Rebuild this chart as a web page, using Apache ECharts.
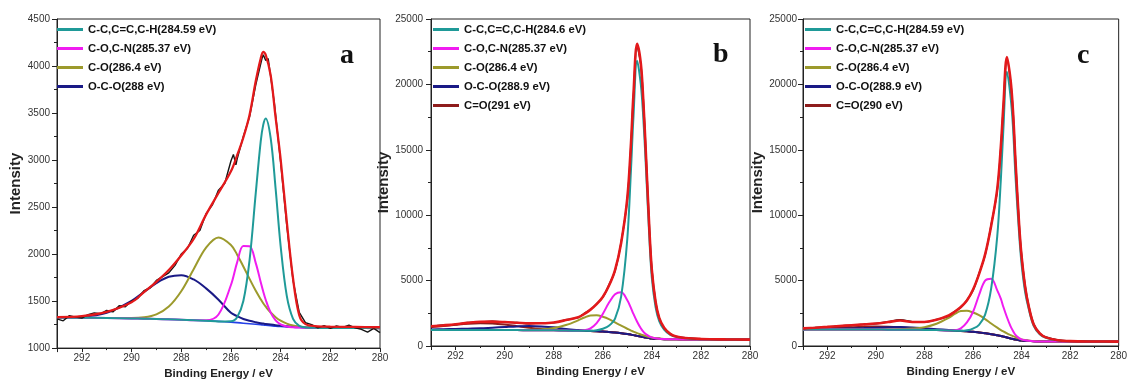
<!DOCTYPE html>
<html>
<head>
<meta charset="utf-8">
<script src="https://cdn.jsdelivr.net/npm/echarts@6/dist/echarts.min.js"></script>
<style>html,body{margin:0;padding:0;background:#fff}#c{width:1130px;height:385px}</style>
</head>
<body>
<div id="c"></div>
<script>
// ---------- Panel a ----------
const gA = [293,292,291,290,289.5,289,288.5,288,287.5,287,286.5,286,285.75,285.5,285.25,285,284.8,284.7,284.6,284.4,284.2,284,283.75,283.5,283.25,283,282.5,282,281,280];
const bgA = [1325,1323,1320,1316,1313,1310,1306,1302,1297,1291,1284,1276,1271,1265,1259,1253,1248,1245,1243,1238,1233,1229,1225,1222,1219,1217,1215,1214,1213,1212];
const tealA = [1325,1323,1320,1316,1313,1310,1306,1302,1297,1291,1284,1286,1329,1500,1936,2650,3201,3374,3443,3233,2692,2088,1552,1311,1236,1220,1215,1214,1213,1212];
const magA = [1325,1323,1320,1316,1313,1310,1306,1302,1297,1296,1357,1671,1912,2085,2083,1904,1701,1602,1514,1377,1294,1252,1230,1222,1219,1217,1215,1214,1213,1212];
const oliveA = [1325,1323,1320,1319,1327,1359,1442,1605,1839,2069,2177,2097,1994,1868,1736,1609,1519,1477,1441,1378,1329,1292,1261,1241,1229,1221,1215,1214,1213,1212];
const navyA = [1326,1333,1376,1503,1597,1691,1758,1776,1730,1635,1515,1375,1340,1310,1290,1275,1265,1261,1257,1250,1244,1239,1233,1229,1225,1222,1219,1217,1215,1213];
const redA = [1330,1340,1385,1487,1595,1705,1830,1985,2160,2420,2650,2880,3050,3240,3480,3840,4080,4150,4120,3900,3450,3010,2340,1740,1350,1255,1232,1228,1225,1222];
const rawAX = [293,292.75,292.5,292.25,292,291.75,291.5,291.25,291,290.75,290.5,290.25,290,289.75,289.5,289.25,289,288.75,288.5,288.25,288,287.75,287.5,287.25,287,286.75,286.5,286.25,286,285.9,285.8,285.75,285.5,285.25,285,284.75,284.7,284.6,284.5,284.25,284,283.75,283.5,283.25,283,282.75,282.5,282.25,282,281.75,281.5,281.25,281,280.75,280.5,280.25,280];
const rawAY = [1310,1290,1345,1330,1320,1355,1375,1365,1400,1385,1450,1440,1500,1530,1610,1640,1720,1760,1800,1880,2000,2060,2200,2250,2430,2520,2680,2750,2990,3060,2950,3010,3250,3460,3800,4080,4120,4060,4080,3600,2980,2300,1720,1380,1270,1250,1215,1240,1210,1235,1220,1245,1215,1200,1170,1210,1165];

// ---------- Panels b and c share one energy grid ----------
const gBC = [293,292.5,292,291.5,291,290.5,290,289.5,289,288.5,288,287.5,287,286.75,286.5,286.25,286,285.75,285.5,285.25,285,284.85,284.75,284.6,284.45,284.35,284.25,284.1,284,283.85,283.7,283.5,283.25,283,282.5,282,281,280];

const bgB = [1230,1230,1228,1226,1224,1222,1220,1215,1210,1203,1195,1180,1165,1155,1140,1122,1100,1070,1030,980,920,870,830,775,720,680,640,600,580,560,545,525,515,510,500,495,485,475];
const tealB = [1230,1230,1228,1226,1224,1222,1220,1215,1210,1203,1195,1180,1165,1160,1160,1200,1320,1550,2100,3800,8200,13500,17500,21800,20000,17500,14000,8200,5200,3000,1900,1250,850,680,560,520,490,478];
const magB = [1230,1230,1228,1226,1224,1222,1220,1215,1210,1203,1195,1180,1165,1200,1350,1750,2450,3300,3950,4100,3500,2900,2450,1850,1350,1100,920,740,660,590,555,528,515,510,500,495,485,475];
const oliveB = [1230,1230,1228,1226,1224,1222,1222,1222,1235,1270,1370,1600,1960,2180,2340,2350,2240,2060,1800,1560,1320,1180,1100,980,880,820,760,690,650,600,565,535,518,510,500,495,485,475];
const navyB = [1270,1285,1300,1325,1350,1400,1450,1500,1530,1500,1430,1300,1215,1185,1160,1135,1108,1070,1030,980,920,870,830,775,720,680,640,600,580,560,545,525,515,510,500,495,485,475];
const coB = [1450,1530,1620,1700,1740,1720,1640,1520,1400,1310,1250,1205,1175,1160,1140,1122,1100,1070,1030,980,920,870,830,775,720,680,640,600,580,560,545,525,515,510,500,495,485,475];
const redB = [1510,1580,1660,1770,1850,1860,1830,1780,1730,1740,1800,1980,2200,2450,2780,3200,3750,4600,5800,7900,11300,15500,19200,23100,21600,18800,15000,8900,5800,3400,2150,1400,930,730,590,540,505,485];
const rawB = [1480,1600,1640,1790,1830,1880,1810,1790,1710,1770,1780,2000,2180,2500,2790,3230,3720,4650,5750,7950,11200,15400,19100,22900,21500,18900,15200,9100,5900,3450,2150,1380,920,720,600,530,500,490];

const bgC = [1270,1269,1268,1265,1262,1258,1255,1250,1245,1238,1230,1215,1190,1170,1150,1120,1090,1035,970,900,820,770,720,650,580,535,490,440,420,400,385,360,345,340,337,335,332,330];
const tealC = [1270,1269,1268,1265,1262,1258,1255,1250,1245,1238,1230,1215,1190,1170,1160,1200,1330,1620,2400,4400,8400,12800,16500,20970,19000,16700,13000,8600,6300,4100,2800,1550,900,620,420,365,338,332];
const magC = [1270,1269,1268,1265,1262,1258,1255,1250,1245,1238,1230,1215,1190,1200,1350,1800,2600,3900,5000,5150,4250,3600,3000,2200,1500,1150,850,600,510,440,400,365,345,340,337,335,332,330];
const oliveC = [1270,1269,1268,1265,1263,1262,1262,1265,1285,1330,1440,1700,2150,2450,2670,2690,2560,2360,2060,1720,1400,1220,1110,960,830,750,680,560,500,450,415,375,350,342,337,335,332,330];
const navyC = [1290,1300,1310,1325,1345,1370,1400,1430,1445,1420,1360,1290,1220,1190,1162,1128,1095,1035,970,900,820,770,720,650,580,535,490,440,420,400,385,360,345,340,337,335,332,330];
const coC = [1300,1320,1350,1390,1440,1480,1500,1480,1430,1360,1300,1250,1205,1180,1155,1120,1090,1035,970,900,820,770,720,650,580,535,490,440,420,400,385,360,345,340,337,335,332,330];
const redC = [1350,1400,1460,1530,1590,1650,1720,1830,1950,1830,1840,2000,2330,2620,2980,3480,4300,5500,7000,9200,12000,15300,18300,22100,20300,17900,14200,9300,6900,4500,3000,1650,960,660,440,370,345,335];
const rawC = [1330,1410,1450,1540,1580,1660,1710,1850,2000,1850,1820,2020,2300,2650,2950,3500,4250,5550,6950,9250,11900,15200,18200,21900,20200,17950,14300,9400,7000,4600,3050,1700,980,680,450,375,345,338];

// ---------- Names ----------
const namesA = ['C-C,C=C,C-H(284.59 eV)','C-O,C-N(285.37 eV)','C-O(286.4 eV)','O-C-O(288 eV)'];
const namesB = ['C-C,C=C,C-H(284.6 eV)','C-O,C-N(285.37 eV)','C-O(286.4 eV)','O-C-O(288.9 eV)','C=O(291 eV)'];
const namesC = ['C-C,C=C,C-H(284.59 eV) ','C-O,C-N(285.37 eV)','C-O(286.4 eV)','O-C-O(288.9 eV)','C=O(290 eV)'];
const panelLetters = ['a','b','c'];
const xTitle = 'Binding Energy / eV';
const yTitle = 'Intensity';

const COL = {teal:'#1f9a98', mag:'#f01cf0', olive:'#9c9a2c', navy:'#1a1a86', co:'#8e1c1c', red:'#e3191b', black:'#151515', bgA:'#2440e8', bgBC:'#7a1f1f'};
const SANS = "'Liberation Sans',Arial,sans-serif";

function zip(xs, ys){ return xs.map((x,i)=>[x, ys[i]]); }
function ln(name, xs, ys, color, width, gi, smooth){
  return {type:'line', name:name, xAxisIndex:gi, yAxisIndex:gi, data:zip(xs,ys),
    showSymbol:false, symbol:'none', smooth: smooth===undefined?0.35:smooth, silent:true,
    lineStyle:{color:color, width:width}, itemStyle:{color:color}, emphasis:{disabled:true}};
}

const grids = [
  {left:57, top:19, width:323, height:331},
  {left:431, top:19, width:319, height:327},
  {left:803, top:19, width:320, height:327}
];
const xNameGap = [13, 17, 16];
const yNameGap = [32, 31, 32];
const yLabelMargin = [7, 8, 6];

function xAxis(i){
  return {type:'value', gridIndex:i, min:280, max:293, interval:2, inverse:true,
    axisLine:{onZero:false, lineStyle:{color:'#222', width:1}},
    axisTick:{length:4, lineStyle:{color:'#222'}},
    minorTick:{show:true, splitNumber:2, length:2, lineStyle:{color:'#222'}},
    splitLine:{show:false}, minorSplitLine:{show:false},
    axisLabel:{fontSize:10, color:'#333', margin:5, fontFamily:SANS, showMaxLabel:false,
      formatter:function(v){ return v === 293 ? '' : String(v); }},
    name:xTitle, nameLocation:'middle', nameGap:xNameGap[i],
    nameTextStyle:{fontFamily:SANS, fontWeight:'bold', fontSize:11.5, color:'#222'}};
}
function yAxis(i, min, max, interval){
  return {type:'value', gridIndex:i, min:min, max:max, interval:interval,
    axisLine:{show:true, onZero:false, lineStyle:{color:'#222', width:1}},
    axisTick:{show:true, length:5, lineStyle:{color:'#222'}},
    minorTick:{show:true, splitNumber:2, length:3, lineStyle:{color:'#222'}},
    splitLine:{show:false}, minorSplitLine:{show:false},
    axisLabel:{fontSize:10, color:'#333', margin:yLabelMargin[i], fontFamily:SANS,
      formatter:function(v){ return String(v); }},
    name:yTitle, nameLocation:'middle', nameGap:yNameGap[i], nameRotate:90,
    nameTextStyle:{fontFamily:SANS, fontWeight:'bold', fontSize:15, color:'#222'}};
}
function legend(i, left, names){
  return {show:true, orient:'vertical', left:left, top:22, padding:0, itemGap:4,
    icon:'rect', itemWidth:26, itemHeight:3, selectedMode:false, data:names,
    textStyle:{fontFamily:SANS, fontWeight:'bold', fontSize:11.3, lineHeight:15, color:'#111'}};
}

const series = [
  // panel a
  ln('bgA', gA, bgA, COL.bgA, 1.6, 0),
  ln(namesA[3], gA, navyA, COL.navy, 2, 0),
  ln(namesA[2], gA, oliveA, COL.olive, 2, 0),
  ln(namesA[1], gA, magA, COL.mag, 2, 0),
  ln(namesA[0], gA, tealA, COL.teal, 2, 0),
  ln('rawA', rawAX, rawAY, COL.black, 1.4, 0, false),
  ln('fitA', gA, redA, COL.red, 2.3, 0),
  // panel b
  ln('bgB', gBC, bgB, COL.bgBC, 2, 1),
  ln(namesB[4], gBC, coB, COL.co, 2, 1),
  ln(namesB[3], gBC, navyB, COL.navy, 2, 1),
  ln(namesB[2], gBC, oliveB, COL.olive, 2, 1),
  ln(namesB[1], gBC, magB, COL.mag, 2, 1),
  ln(namesB[0], gBC, tealB, COL.teal, 2, 1),
  ln('rawB', gBC, rawB, COL.black, 1.6, 1),
  ln('fitB', gBC, redB, COL.red, 2.6, 1),
  // panel c
  ln('bgC', gBC, bgC, COL.bgBC, 2, 2),
  ln(namesC[4], gBC, coC, COL.co, 2, 2),
  ln(namesC[3], gBC, navyC, COL.navy, 2, 2),
  ln(namesC[2], gBC, oliveC, COL.olive, 2, 2),
  ln(namesC[1], gBC, magC, COL.mag, 2, 2),
  ln(namesC[0], gBC, tealC, COL.teal, 2, 2),
  ln('rawC', gBC, rawC, COL.black, 1.6, 2),
  ln('fitC', gBC, redC, COL.red, 2.6, 2)
];

const chart = echarts.init(document.getElementById('c'), null, {renderer:'canvas'});
chart.setOption({
  animation:false,
  backgroundColor:'#ffffff',
  grid: grids.map(g=>Object.assign({show:true, borderColor:'#222', borderWidth:1, backgroundColor:'transparent', containLabel:false}, g)),
  xAxis:[xAxis(0), xAxis(1), xAxis(2)],
  yAxis:[yAxis(0,1000,4500,500), yAxis(1,0,25000,5000), yAxis(2,0,25000,5000)],
  legend:[legend(0,57,namesA), legend(1,433,namesB), legend(2,805,namesC)],
  graphic:[
    {type:'text', left:340, top:42, style:{text:panelLetters[0], font:'bold 28px "Liberation Serif", serif', fill:'#111'}},
    {type:'text', left:713, top:41, style:{text:panelLetters[1], font:'bold 28px "Liberation Serif", serif', fill:'#111'}},
    {type:'text', left:1077, top:42, style:{text:panelLetters[2], font:'bold 28px "Liberation Serif", serif', fill:'#111'}}
  ],
  series:series
});
</script>
</body>
</html>
